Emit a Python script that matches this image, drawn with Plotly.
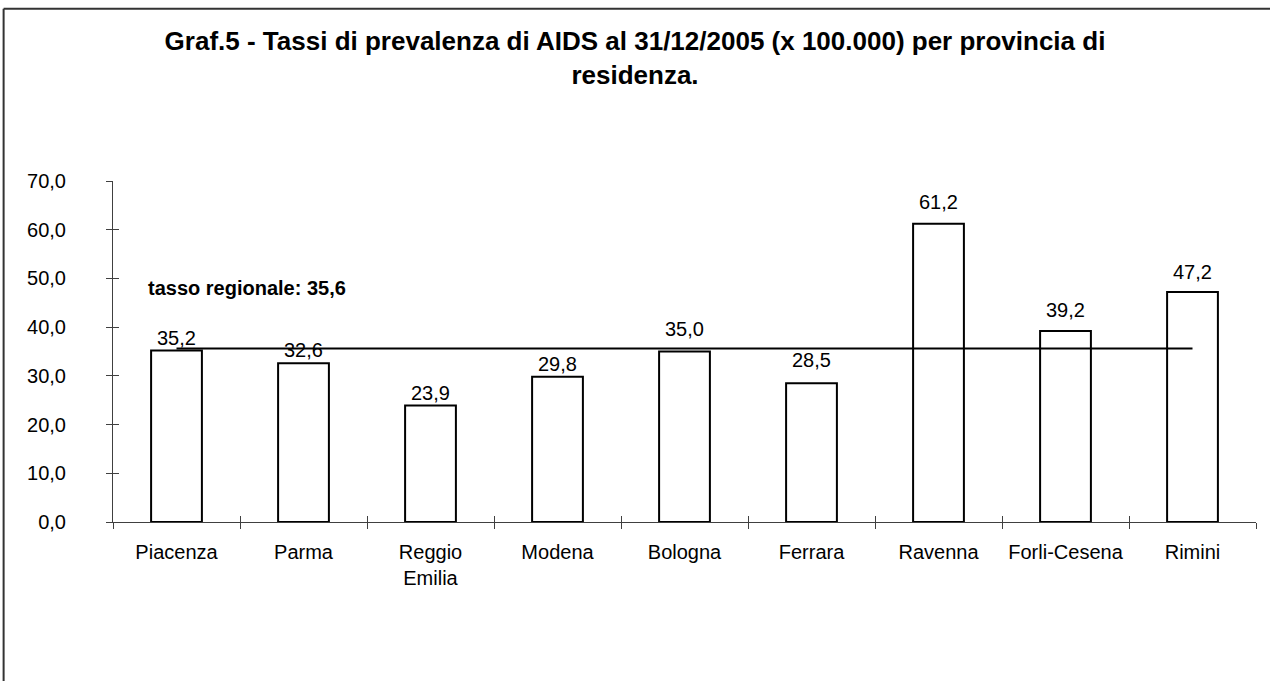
import plotly.graph_objects as go

# dati: tassi di prevalenza AIDS per provincia (x 100.000)
province = ["Piacenza", "Parma", "Reggio<br>Emilia", "Modena", "Bologna",
            "Ferrara", "Ravenna", "Forli-Cesena", "Rimini"]
tassi = [35.2, 32.6, 23.9, 29.8, 35.0, 28.5, 61.2, 39.2, 47.2]
tasso_regionale = 35.6
y_ticks = [0, 10, 20, 30, 40, 50, 60, 70]

# spostamento verticale (px) delle etichette dei valori
label_shift = [0, 0, 0, 0, 10, 10, 9, 8, 7]

font = "Liberation Sans, Arial, sans-serif"

fig = go.Figure()
fig.add_trace(go.Bar(
    x=province, y=tassi,
    marker=dict(color="white", line=dict(color="black", width=2)),
    showlegend=False, hoverinfo="x+y",
))
# linea del tasso regionale (da primo a ultimo centro categoria)
fig.add_trace(go.Scatter(
    x=[province[0], province[-1]], y=[tasso_regionale, tasso_regionale],
    mode="lines", line=dict(color="black", width=2),
    xaxis="x2", yaxis="y2", showlegend=False,
))

annotations = [dict(
    text="<b>tasso regionale: 35,6</b>", xref="paper", yref="y",
    x=0.029, y=48.1, xanchor="left", yanchor="middle", showarrow=False,
    font=dict(size=20, family=font, color="black"),
)]
for cat, val, dy in zip(province, tassi, label_shift):
    annotations.append(dict(
        x=cat, y=val, xref="x", yref="y",
        text=f"{val:.1f}".replace(".", ","),
        xanchor="center", yanchor="bottom", yshift=dy, showarrow=False,
        font=dict(size=20, family=font, color="black"),
    ))

fig.update_layout(
    width=1270, height=681,
    paper_bgcolor="white", plot_bgcolor="white",
    separators=",.",
    margin=dict(l=113, r=14, t=181, b=159),
    bargap=0.6,
    font=dict(family=font, color="black", size=20),
    title=dict(
        text="<b>Graf.5 - Tassi di prevalenza di AIDS al 31/12/2005 (x 100.000) per provincia di<br>residenza.</b>",
        x=0.5, xanchor="center", xref="container",
        y=0.927, yanchor="top", yref="container",
        font=dict(size=26, family=font, color="black"),
    ),
    xaxis=dict(
        type="category", categoryarray=province, range=[-0.5, 8.5],
        showline=True, linecolor="#404040", linewidth=1,
        ticks="outside", ticklen=6, tickcolor="#404040", tickson="boundaries",
        showgrid=False, tickfont=dict(size=20), ticklabelstandoff=12,
    ),
    yaxis=dict(
        range=[0, 70], tickvals=y_ticks, tickformat=".1f",
        showline=True, linecolor="#404040", linewidth=1,
        ticks="outside", ticklen=6, tickcolor="#404040",
        showgrid=False, zeroline=False, tickfont=dict(size=20),
        ticklabelstandoff=36,
    ),
    xaxis2=dict(
        type="category", categoryarray=province, range=[-0.5, 8.5],
        overlaying="x", showticklabels=False, ticks="inside", ticklen=6,
        tickcolor="#404040", tickson="boundaries", showgrid=False, showline=False,
    ),
    yaxis2=dict(
        range=[0, 70], tickvals=y_ticks, overlaying="y",
        showticklabels=False, ticks="inside", ticklen=6, tickcolor="#404040",
        showgrid=False, zeroline=False, showline=False,
    ),
    annotations=annotations,
    # cornice esterna (solo bordo sinistro e superiore visibili)
    shapes=[
        dict(type="line", xref="paper", yref="paper",
             x0=-0.0957, x1=-0.0957, y0=-1.0, y1=1.505,
             line=dict(color="#333333", width=2)),
        dict(type="line", xref="paper", yref="paper",
             x0=-0.0957, x1=1.2, y0=1.505, y1=1.505,
             line=dict(color="#333333", width=2)),
    ],
)

fig.write_html(
    "out.html", config={"displayModeBar": False},
    post_script="document.documentElement.style.margin='0';"
                "document.body.style.margin='0';"
                "document.body.style.overflow='hidden';window.scrollTo(0,0);",
)
